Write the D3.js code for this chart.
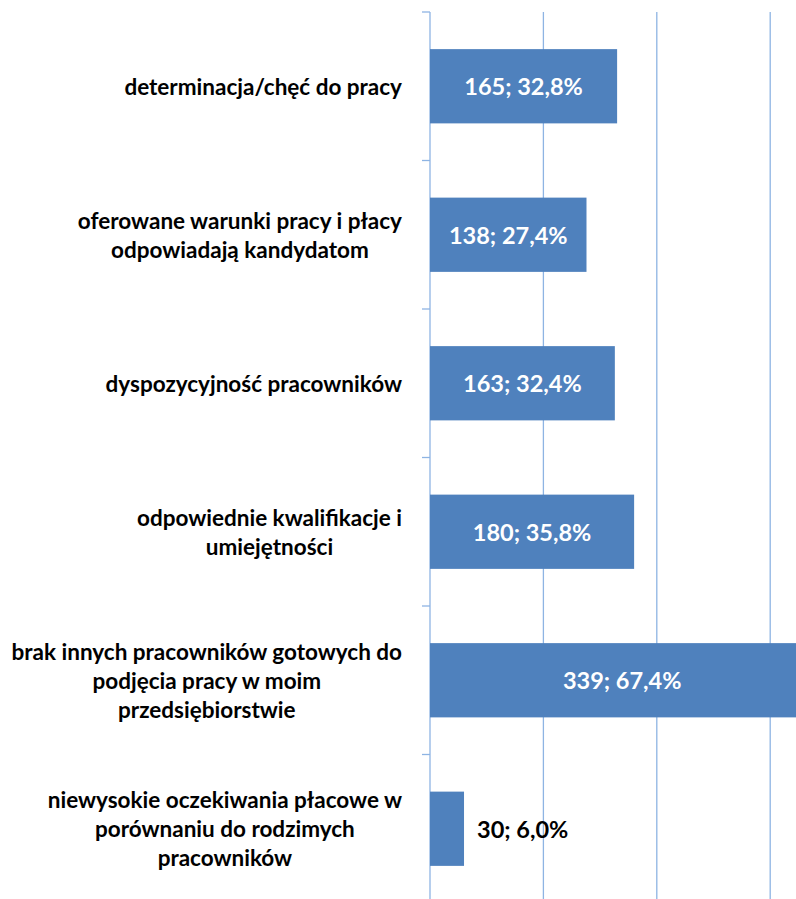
<!DOCTYPE html>
<html>
<head>
<meta charset="utf-8">
<script src="https://cdn.jsdelivr.net/npm/d3@7"></script>
<style>
  html, body { margin: 0; padding: 0; background: #fff; }
  svg { display: block; }
</style>
</head>
<body>
<svg id="canvas"></svg>
<script>
const categories = [
	['determinacja/chęć do pracy'],
	['oferowane warunki pracy i płacy', 'odpowiadają kandydatom'],
	['dyspozycyjność pracowników'],
	['odpowiednie kwalifikacje i', 'umiejętności'],
	['brak innych pracowników gotowych do', 'podjęcia pracy w moim', 'przedsiębiorstwie'],
	['niewysokie oczekiwania płacowe w', 'porównaniu do rodzimych', 'pracowników']
];
const counts = [165, 138, 163, 180, 339, 30];
const percents = [32.8, 27.4, 32.4, 35.8, 67.4, 6.0];
const gridTicks = [0, 100, 200, 300, 400];

const width = 796;
const height = 899;
const axisX = 430;
const plotTop = 12;
const plotBottom = 903;

const canvas = d3.select('#canvas').attr('width', width).attr('height', height);

const ids = categories.map((c, i) => i);

const x = d3.scaleLinear().domain([0, 400]).range([axisX, axisX + 453.6]);
const y = d3.scaleBand().domain(ids).range([plotTop, plotBottom]).paddingInner(0.5).paddingOuter(0.25);

const gridColor = '#8eb4e3';
const barColor = '#4f81bd';

// gridlines
canvas.append('g')
	.selectAll('line')
	.data(gridTicks.slice(1))
	.enter()
	.append('line')
	.attr('x1', (d) => x(d))
	.attr('x2', (d) => x(d))
	.attr('y1', plotTop)
	.attr('y2', plotBottom)
	.attr('stroke', gridColor)
	.attr('stroke-width', 1.3);

// category axis, ticks between categories
const edges = d3.range(categories.length + 1).map((i) => plotTop + i * y.step());

canvas.append('line')
	.attr('x1', axisX)
	.attr('x2', axisX)
	.attr('y1', plotTop)
	.attr('y2', plotBottom)
	.attr('stroke', gridColor)
	.attr('stroke-width', 1.3);

canvas.append('g')
	.selectAll('line')
	.data(edges)
	.enter()
	.append('line')
	.attr('x1', axisX - 8)
	.attr('x2', axisX)
	.attr('y1', (d) => d)
	.attr('y2', (d) => d)
	.attr('stroke', gridColor)
	.attr('stroke-width', 1.3);

// bars
canvas.append('g')
	.selectAll('rect')
	.data(ids)
	.enter()
	.append('rect')
	.attr('x', x(0))
	.attr('y', (i) => y(i))
	.attr('width', (i) => x(counts[i]) - x(0))
	.attr('height', y.bandwidth())
	.attr('fill', barColor);

// value labels
const fmt = (v) => v.toFixed(1).replace('.', ',');
canvas.append('g')
	.selectAll('text')
	.data(ids)
	.enter()
	.append('text')
	.text((i) => `${counts[i]}; ${fmt(percents[i])}%`)
	.attr('font-family', 'Lato, "Open Sans", sans-serif')
	.attr('font-weight', 'bold')
	.attr('font-size', '23.5px')
	.attr('dominant-baseline', 'central')
	.attr('y', (i) => y(i) + y.bandwidth() / 2)
	.each(function (i) {
		const t = d3.select(this);
		const w = this.getComputedTextLength();
		const barW = x(counts[i]) - x(0);
		if (barW > w + 20) {
			t.attr('x', (x(0) + x(counts[i])) / 2)
				.attr('text-anchor', 'middle')
				.attr('fill', '#fff');
		} else {
			t.attr('x', x(counts[i]) + 13).attr('text-anchor', 'start').attr('fill', '#000');
		}
	});

// category labels
const lineH = 29;
const labels = canvas.append('g')
	.selectAll('text')
	.data(ids)
	.enter()
	.append('text')
	.attr('font-family', 'Lato, "Open Sans", sans-serif')
	.attr('font-weight', 'bold')
	.attr('font-size', '22.5px')
	.attr('fill', '#000')
	.attr('text-anchor', 'middle');

labels.each(function (i) {
	const t = d3.select(this);
	const lines = categories[i];
	const cy = y(i) + y.bandwidth() / 2;
	const spans = lines.map((s, k) =>
		t.append('tspan')
			.text(s)
			.attr('y', cy + (k - (lines.length - 1) / 2) * lineH)
			.attr('dominant-baseline', 'central')
	);
	const maxW = d3.max(spans, (sp) => sp.node().getComputedTextLength());
	const cx = 402 - maxW / 2;
	spans.forEach((sp) => sp.attr('x', cx));
});
</script>
</body>
</html>
